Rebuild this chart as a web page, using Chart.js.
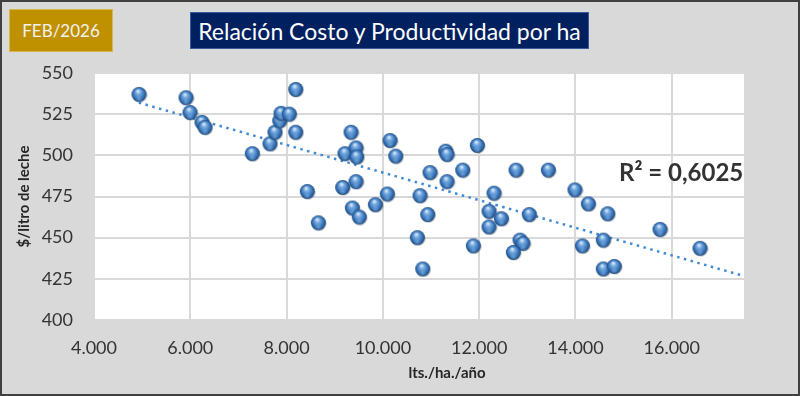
<!DOCTYPE html>
<html>
<head>
<meta charset="utf-8">
<script src="https://cdn.jsdelivr.net/npm/chart.js@4.4.1/dist/chart.umd.min.js"></script>
<style>
  html,body{margin:0;padding:0;}
  body{width:800px;height:396px;background:#d9d9d9;position:relative;overflow:hidden;font-family:Lato,"Open Sans",sans-serif;}
  #c{position:absolute;left:0;top:0;}
  .box{position:absolute;display:flex;align-items:center;justify-content:center;box-sizing:border-box;white-space:nowrap;}
  #feb{left:9px;top:9px;width:104px;height:43px;background:#bf9000;border:1px solid #d8b650;color:#f2f2f2;font-size:17px;}
  #ttl{left:190px;top:12px;width:399px;height:37px;background:#002060;border:1px solid #3a5a9a;color:#ffffff;font-size:23px;}
  #r2{position:absolute;left:619px;top:157px;font-size:24px;font-weight:bold;color:#333333;white-space:nowrap;}
  #xt{position:absolute;left:447px;top:372px;transform:translate(-50%,-50%);font-size:15px;font-weight:bold;color:#262626;white-space:nowrap;}
  #frame{position:absolute;left:0;top:0;width:800px;height:396px;box-sizing:border-box;border:2px solid #404040;pointer-events:none;}
</style>
</head>
<body>
<canvas id="c" width="800" height="396"></canvas>
<div class="box" id="feb">FEB/2026</div>
<div class="box" id="ttl">Relación Costo y Productividad por ha</div>
<div id="r2">R² = 0,6025</div>
<div id="xt">lts./ha./año</div>
<div id="frame"></div>
<script>
// Productividad (lts./ha./año)
const litrosHa = [
  4935, 5911, 5994, 6243, 6305, 7288, 7655, 7759, 7857, 7884, 8056, 8189, 8189, 8430, 8659,
  9338, 9213, 9442, 9456, 9165, 9442, 9365, 9510, 9843, 10092, 10148, 10266,
  10771, 10931, 10715, 10827, 10979, 11305, 11332, 11332, 11658, 11962, 11879,
  12308, 12204, 12460, 12204, 12765, 13041, 12848, 12910, 12709, 13436,
  13990, 14267, 14670, 14142, 14578, 14578, 14806, 15756, 16587
];
// Costo ($/litro de leche)
const costoLitro = [
  537, 535, 526, 520, 517, 501, 507, 514, 521, 525.5, 525, 540, 514, 478, 459,
  514, 501, 504.5, 499, 480.5, 484, 468, 462.5, 470, 476.5, 509, 499.5,
  475.5, 464, 450, 431, 489.5, 502.5, 500.5, 484, 491, 506, 445,
  477, 466, 461.5, 456.5, 491, 464, 448.5, 446.5, 441, 491,
  479, 470.5, 464.5, 445, 448.5, 431, 432.5, 455, 443.5
];
// Línea de tendencia (extremos)
const trendX = [4930, 17500];
const trendY = [532, 426.7];
// Ejes
const xTickValues = [4000, 6000, 8000, 10000, 12000, 14000, 16000];
const xTickLabels = ['4.000', '6.000', '8.000', '10.000', '12.000', '14.000', '16.000'];
const yTickLabels = ['400', '425', '450', '475', '500', '525', '550'];

// sphere marker
function makeSphere(d){
  const s = document.createElement('canvas');
  s.width = d + 2; s.height = d + 2;
  const g = s.getContext('2d');
  const c = (d + 2) / 2, r = d / 2;
  g.beginPath(); g.arc(c + 0.8, c + 0.8, r, 0, Math.PI * 2);
  g.fillStyle = 'rgba(60,60,60,0.25)'; g.fill();
  const grad = g.createRadialGradient(c - r * 0.15, c - r * 0.45, r * 0.1, c, c, r);
  grad.addColorStop(0, '#cfe3f6');
  grad.addColorStop(0.25, '#79abe0');
  grad.addColorStop(0.65, '#3c78bd');
  grad.addColorStop(1, '#1c4779');
  g.beginPath(); g.arc(c, c, r, 0, Math.PI * 2);
  g.fillStyle = grad; g.fill();
  const g2 = g.createRadialGradient(c, c + r * 0.55, 0, c, c + r * 0.55, r * 0.5);
  g2.addColorStop(0, 'rgba(140,190,240,0.55)');
  g2.addColorStop(1, 'rgba(140,190,240,0)');
  g.beginPath(); g.arc(c, c, r, 0, Math.PI * 2);
  g.fillStyle = g2; g.fill();
  return s;
}
const sphere = makeSphere(15);

const points = litrosHa.map((x, i) => ({x: x, y: costoLitro[i]}));
const trend = trendX.map((x, i) => ({x: x, y: trendY[i]}));

const plotBg = {
  id: 'plotBg',
  beforeDraw(chart){
    const {ctx, chartArea: a} = chart;
    ctx.save();
    ctx.fillStyle = '#ffffff';
    ctx.fillRect(a.left, a.top, a.right - a.left, a.bottom - a.top);
    ctx.restore();
  }
};

const tickFont = {family: 'Lato, "Open Sans", sans-serif', size: 18};

new Chart(document.getElementById('c'), {
  type: 'scatter',
  data: {
    datasets: [
      {
        label: 'Costo',
        data: points,
        pointStyle: sphere,
        pointRadius: 7.5,
        order: 1
      },
      {
        label: 'Tendencia',
        type: 'line',
        data: trend,
        borderColor: '#3f8bd6',
        borderWidth: 2.5,
        borderDash: [2.5, 4.5],
        pointRadius: 0,
        fill: false,
        order: 2
      }
    ]
  },
  plugins: [plotBg],
  options: {
    responsive: false,
    animation: false,
    events: [],
    layout: {padding: {left: 0, right: 56, top: 73, bottom: 0}},
    plugins: {legend: {display: false}, tooltip: {enabled: false}},
    scales: {
      x: {
        type: 'linear',
        min: 4000,
        max: 17500,
        afterBuildTicks(scale){ scale.ticks = xTickValues.map(v => ({value: v})); },
        afterFit(scale){ scale.height = 76; },
        ticks: {
          includeBounds: false,
          font: tickFont,
          color: '#333333',
          padding: 17,
          maxRotation: 0,
          callback: (v) => { const i = xTickValues.indexOf(v); return i >= 0 ? xTickLabels[i] : ''; }
        },
        grid: {color: '#d9d9d9', lineWidth: 2, drawTicks: false},
        border: {display: false}
      },
      y: {
        min: 400,
        max: 550,
        afterFit(scale){ scale.width = 94; },
        ticks: {
          stepSize: 25,
          font: tickFont,
          color: '#333333',
          padding: 21,
          callback: (v) => { const i = Math.round((v - 400) / 25); return yTickLabels[i]; }
        },
        grid: {color: '#d9d9d9', lineWidth: 2, drawTicks: false},
        border: {display: false},
        title: {
          display: true,
          text: '$/litro de leche',
          color: '#262626',
          font: {family: 'Lato, "Open Sans", sans-serif', size: 15, weight: 'bold'},
          padding: {top: 15, bottom: 0}
        }
      }
    }
  }
});
</script>
</body>
</html>
